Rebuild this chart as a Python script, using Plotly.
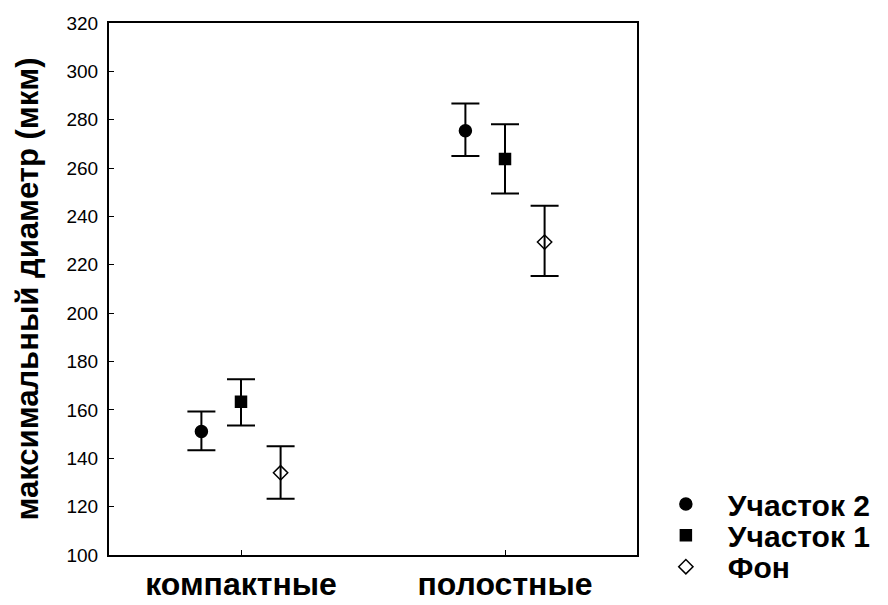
import plotly.graph_objects as go

categories = ["компактные", "полостные"]
series_names = ["Участок 2", "Участок 1", "Фон"]
means = {
    "Участок 2": [151.1, 275.4],
    "Участок 1": [163.4, 263.8],
    "Фон": [134.0, 229.4],
}
upper = {
    "Участок 2": [159.3, 286.7],
    "Участок 1": [172.7, 278.1],
    "Фон": [145.0, 244.4],
}
lower = {
    "Участок 2": [143.3, 265.0],
    "Участок 1": [153.6, 249.5],
    "Фон": [123.3, 215.4],
}
y_ticks = [100, 120, 140, 160, 180, 200, 220, 240, 260, 280, 300, 320]

# style
offsets = {"Участок 2": -0.15, "Участок 1": 0.0, "Фон": 0.15}
symbols = {"Участок 2": "circle", "Участок 1": "square", "Фон": "diamond-open"}
sizes = {"Участок 2": 12, "Участок 1": 11, "Фон": 11}
legend_ids = {"Участок 2": "legend", "Участок 1": "legend2", "Фон": "legend3"}
legend_y = {"legend": 0.096, "legend2": 0.037, "legend3": -0.022}
FONT = "Liberation Sans, Arial, sans-serif"

fig = go.Figure()
for name in series_names:
    xs = [i + offsets[name] for i in range(len(categories))]
    m = means[name]
    fig.add_trace(go.Scatter(
        x=xs, y=m, mode="markers", name=name, legend=legend_ids[name],
        marker=dict(symbol=symbols[name], size=sizes[name], color="black",
                    line=dict(color="black", width=1.5)),
        error_y=dict(type="data", symmetric=False,
                     array=[u - v for u, v in zip(upper[name], m)],
                     arrayminus=[v - l for v, l in zip(m, lower[name])],
                     color="black", thickness=2, width=14),
    ))

legend_common = dict(x=1.013, xanchor="left", yanchor="middle", itemwidth=74,
                     font=dict(family=FONT, size=30, color="black", weight="bold"),
                     bgcolor="rgba(0,0,0,0)")

fig.update_layout(
    width=888, height=605,
    margin=dict(l=109, r=242, t=23, b=42),
    paper_bgcolor="white", plot_bgcolor="white",
    font=dict(family=FONT, color="black"),
    showlegend=True,
    legend=dict(y=legend_y["legend"], **legend_common),
    legend2=dict(y=legend_y["legend2"], **legend_common),
    legend3=dict(y=legend_y["legend3"], **legend_common),
    xaxis=dict(range=[-0.5, 1.5], tickvals=list(range(len(categories))),
               ticktext=categories, ticks="inside", ticklen=5, tickcolor="black",
               showline=True, mirror=True, linecolor="black", linewidth=2,
               showgrid=False, zeroline=False, automargin=False,
               tickfont=dict(family=FONT, size=32, color="black", weight="bold")),
    yaxis=dict(range=[100, 320], tickvals=y_ticks, ticks="inside", ticklen=5,
               tickcolor="black", showline=True, mirror=True, linecolor="black",
               linewidth=2, showgrid=False, zeroline=False, automargin=False,
               ticklabelstandoff=5,
               tickfont=dict(family=FONT, size=19, color="black"),
               title=dict(text="максимальный диаметр (мкм)", standoff=19,
                          font=dict(family=FONT, size=31, color="black", weight="bold"))),
)

fig.write_html("out.html", config={"displayModeBar": False},
               post_script="document.body.style.margin='0px';")
